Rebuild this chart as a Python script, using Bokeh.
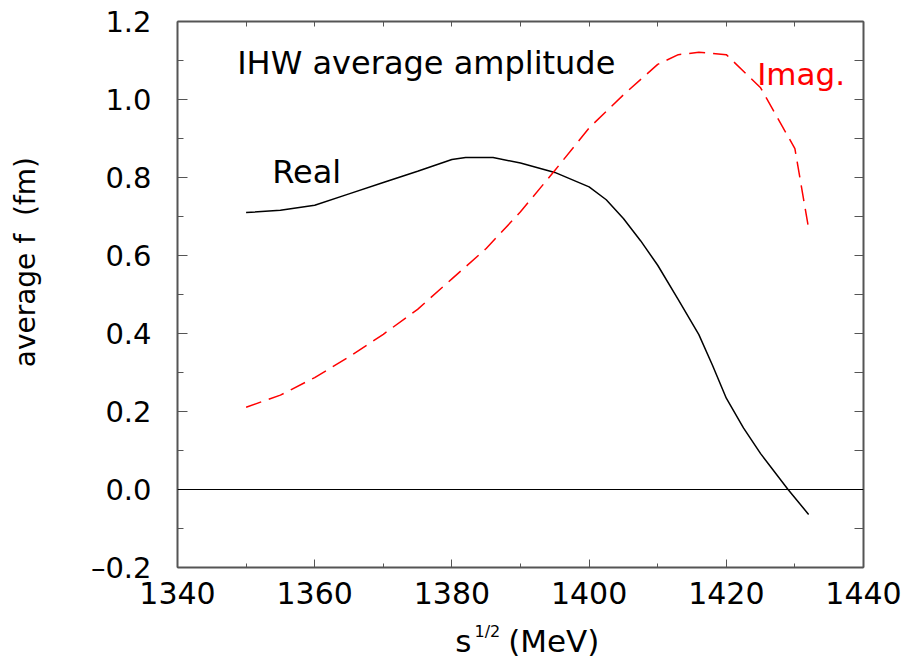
import math
from bokeh.plotting import figure
from bokeh.layouts import column
from bokeh.models import (Range1d, LinearAxis, SingleIntervalTicker, FixedTicker,
                          CustomJSTickFormatter, Label, Span)
from bokeh.core.properties import value
from bokeh.embed import file_html
from bokeh.resources import INLINE

# ---- data ----
s_real = [1350, 1355, 1360, 1365, 1370, 1375, 1380, 1382, 1386, 1390, 1395, 1400,
          1402.5, 1405, 1407.5, 1410, 1413, 1416, 1418, 1420, 1422.5, 1425, 1429, 1432]
f_real = [0.710, 0.716, 0.729, 0.758, 0.787, 0.816, 0.846, 0.851, 0.851, 0.837, 0.813, 0.776,
          0.743, 0.695, 0.638, 0.575, 0.487, 0.397, 0.318, 0.234, 0.158, 0.092, 0.000, -0.064]

s_imag = [1350, 1355, 1360, 1365, 1370, 1375, 1380, 1385, 1390, 1395, 1400, 1405,
          1410, 1413, 1416, 1420, 1425, 1430, 1432]
f_imag = [0.211, 0.242, 0.287, 0.340, 0.398, 0.462, 0.540, 0.618, 0.712, 0.818, 0.927, 1.012,
          1.090, 1.115, 1.121, 1.115, 1.030, 0.874, 0.669]

y_ticks = [-0.2, 0.0, 0.2, 0.4, 0.6, 0.8, 1.0, 1.2]
y_minor = [-0.1, 0.1, 0.3, 0.5, 0.7, 0.9, 1.1]
x_tick_interval = 20

FONT = "DejaVu Sans"
AX = "#555555"

# ---------------- main plot ----------------
p = figure(width=907, height=620,
           x_range=Range1d(1340, 1440), y_range=Range1d(-0.2, 1.2),
           output_backend="svg", toolbar_location=None,
           min_border_left=177, min_border_right=44, min_border_top=21, min_border_bottom=53)
p.xgrid.visible = False
p.ygrid.visible = False
p.outline_line_color = None
p.background_fill_color = "white"
p.border_fill_color = "white"

xa = p.xaxis[0]
xa.ticker = SingleIntervalTicker(interval=x_tick_interval, num_minor_ticks=2)
xa.major_tick_in = 8
xa.major_tick_out = 0
xa.minor_tick_in = 4
xa.minor_tick_out = 0
xa.axis_line_color = AX
xa.axis_line_width = 2
xa.major_tick_line_color = AX
xa.minor_tick_line_color = AX
xa.major_label_text_font = FONT
xa.major_label_text_font_size = "30px"
xa.major_label_text_color = "black"
xa.major_label_standoff = 14

ya = p.yaxis[0]
ya.ticker = FixedTicker(ticks=y_ticks, minor_ticks=y_minor)
ya.formatter = CustomJSTickFormatter(
    code="return (tick < -1e-9 ? '\u2013' : '') + Math.abs(tick).toFixed(1);")
ya.major_tick_in = 10
ya.major_tick_out = 0
ya.minor_tick_in = 6
ya.minor_tick_out = 0
ya.axis_line_color = AX
ya.axis_line_width = 2
ya.major_tick_line_color = AX
ya.minor_tick_line_color = AX
ya.major_label_text_font = FONT
ya.major_label_text_font_size = "29px"
ya.major_label_text_color = "black"
ya.major_label_standoff = 26
# y title; leading no-break spaces move it up from the frame's centre as in the reference
ya.axis_label = "\u00a0" * 6 + "\u2009\u2009" + "average f\u00a0 (fm)"
ya.axis_label_text_font = FONT
ya.axis_label_text_font_size = "28px"
ya.axis_label_text_font_style = "normal"
ya.axis_label_text_color = "black"
ya.axis_label_standoff = 46

empty = CustomJSTickFormatter(code="return '';")

top = LinearAxis(ticker=SingleIntervalTicker(interval=10, num_minor_ticks=0),
                 formatter=empty, major_tick_in=5, major_tick_out=0,
                 minor_tick_in=0, minor_tick_out=0,
                 axis_line_color=AX, axis_line_width=2, major_tick_line_color=AX,
                 major_label_standoff=0, major_label_text_font_size="1px")
p.add_layout(top, "above")

right = LinearAxis(ticker=FixedTicker(ticks=sorted(y_ticks + y_minor)),
                   formatter=empty, major_tick_in=9, major_tick_out=0,
                   minor_tick_in=0, minor_tick_out=0,
                   axis_line_color=AX, axis_line_width=2, major_tick_line_color=AX,
                   major_label_standoff=0, major_label_text_font_size="1px")
p.add_layout(right, "right")

p.add_layout(Span(location=0, dimension="width", line_color="black", line_width=1.2))

p.line(s_real, f_real, line_color="black", line_width=1.5)
p.line(s_imag, f_imag, line_color="red", line_width=1.5, line_dash="16 8")

p.add_layout(Label(x=1348.7, y=1.094, text="IHW average amplitude", text_font=FONT,
                   text_font_size="32px", text_color="black", text_baseline="alphabetic"))
p.add_layout(Label(x=1353.8, y=0.815, text="Real", text_font=FONT,
                   text_font_size="32px", text_color="black", text_baseline="alphabetic"))
p.add_layout(Label(x=1424.5, y=1.066, text="Imag.", text_font=FONT,
                   text_font_size="31px", text_color="red", text_baseline="alphabetic"))

# ---------------- x-axis title strip (shares the x scale of the plot) ----------------
xl = figure(width=907, height=38, x_range=p.x_range, y_range=Range1d(0, 38),
            output_backend="svg", toolbar_location=None, min_border=0,
            min_border_left=177, min_border_right=44,
            x_axis_type=None, y_axis_type=None)
xl.xgrid.visible = False
xl.ygrid.visible = False
xl.outline_line_color = None
xl.text(x=[1380.5], y=[18], text=["s"], text_baseline="alphabetic",
        text_font=value(FONT), text_font_size=value("31px"), text_color="black")
xl.text(x=[1383.3], y=[27], text=["1/2"], text_baseline="alphabetic",
        text_font=value(FONT), text_font_size=value("16px"), text_color="black")
xl.text(x=[1388.2], y=[18], text=["(MeV)"], text_baseline="alphabetic",
        text_font=value(FONT), text_font_size=value("31px"), text_color="black")

layout = column(p, xl)
open("out.html", "w").write(file_html(layout, INLINE))
